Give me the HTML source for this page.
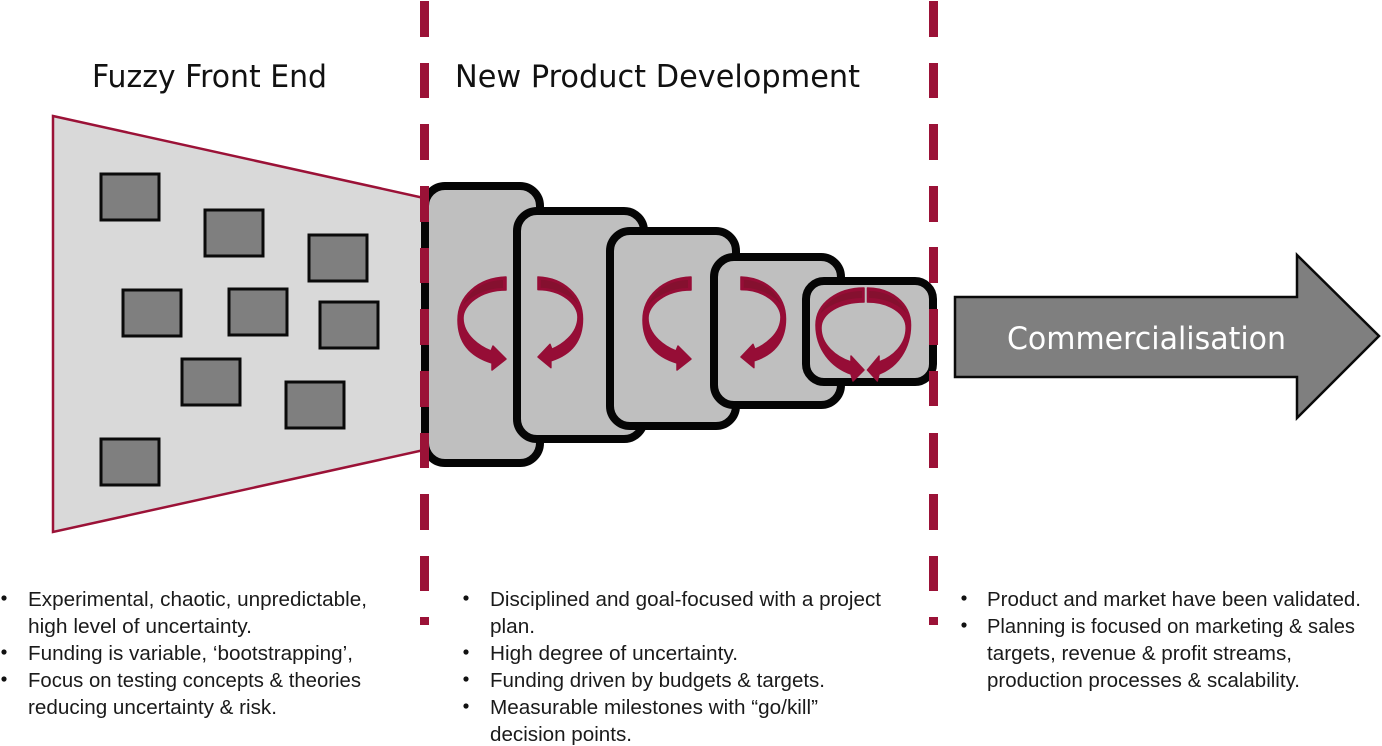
<!DOCTYPE html>
<html>
<head>
<meta charset="utf-8">
<style>
html,body{margin:0;padding:0;background:#fff;width:1382px;height:746px;overflow:hidden}
svg{display:block}
text{font-family:"Liberation Sans",sans-serif;fill:#1a1a1a}
.b{font-size:20px}
.t{font-family:"DejaVu Sans",sans-serif;font-size:31px;fill:#111}
</style>
</head>
<body>
<svg width="1382" height="746" viewBox="0 0 1382 746" xmlns="http://www.w3.org/2000/svg">
<defs>
<g id="arrow">
<path d="M506 277 C478 278 458 296 458 320 C458 344 472 357 492 363 L492 370 L506 359 L493 346 L491 351 C481 347 463 336 463 318 C463 305 480 290 506 290 Z" fill="#960d36" stroke="#960d36" stroke-width="1.5" stroke-linejoin="round"/>
<path d="M503 280 C488 280 470 288 463 305 C470 297 486 288 503 288 Z" fill="#85102f"/>
</g>
<g id="arrowS">
<path d="M864 288 C838 288 816 303 816 325 C816 349 831 367 851 374 L853 381 L864 370 L851 356 L851 362 C836 357 821 345 821 328 C821 313 840 302 864 302 Z" fill="#960d36" stroke="#960d36" stroke-width="1.5" stroke-linejoin="round"/>
<path d="M862 291 C845 291 827 298 820 314 C828 305 845 298 862 298 Z" fill="#85102f"/>
</g>
</defs>

<!-- funnel -->
<polygon points="53,116 424,198 424,450 53,532" fill="#d9d9d9" stroke="#9b1237" stroke-width="2.5"/>
<g fill="#7f7f7f" stroke="#0a0a0a" stroke-width="3">
<rect x="101" y="174" width="58" height="46"/>
<rect x="205" y="210" width="58" height="46"/>
<rect x="309" y="235" width="58" height="46"/>
<rect x="123" y="290" width="58" height="46"/>
<rect x="229" y="289" width="58" height="46"/>
<rect x="320" y="302" width="58" height="46"/>
<rect x="182" y="359" width="58" height="46"/>
<rect x="286" y="382" width="58" height="46"/>
<rect x="101" y="439" width="58" height="46"/>
</g>

<!-- stage boxes -->
<g fill="#bfbfbf" stroke="#050505" stroke-width="8">
<rect x="425" y="186" width="115" height="277" rx="20"/>
<rect x="517" y="211" width="127" height="228" rx="20"/>
<rect x="610" y="231" width="126" height="195" rx="20"/>
<rect x="714" y="257" width="127" height="148" rx="20"/>
<rect x="806" y="281" width="127" height="101" rx="18"/>
</g>

<!-- dashed lines -->
<g fill="#9b1237">
<rect x="420" y="1" width="9" height="36"/>
<rect x="420" y="63" width="9" height="35"/>
<rect x="420" y="124" width="9" height="36"/>
<rect x="420" y="186" width="9" height="36"/>
<rect x="420" y="248" width="9" height="35"/>
<rect x="420" y="309" width="9" height="36"/>
<rect x="420" y="371" width="9" height="36"/>
<rect x="420" y="433" width="9" height="35"/>
<rect x="420" y="494" width="9" height="36"/>
<rect x="420" y="556" width="9" height="35"/>
<rect x="420" y="617" width="9" height="8"/>
<rect x="929" y="1" width="9" height="36"/>
<rect x="929" y="63" width="9" height="35"/>
<rect x="929" y="124" width="9" height="36"/>
<rect x="929" y="186" width="9" height="36"/>
<rect x="929" y="247" width="9" height="36"/>
<rect x="929" y="309" width="9" height="36"/>
<rect x="929" y="371" width="9" height="35"/>
<rect x="929" y="433" width="9" height="35"/>
<rect x="929" y="494" width="9" height="36"/>
<rect x="929" y="556" width="9" height="35"/>
<rect x="929" y="617" width="9" height="8"/>
</g>

<!-- rotation arrows -->
<use href="#arrow"/>
<use href="#arrow" transform="matrix(-0.93 0 0 0.976 1008.5 6.6)"/>
<use href="#arrow" transform="translate(185 0)"/>
<use href="#arrow" transform="matrix(-0.93 0 0 0.976 1211.5 6.6)"/>
<use href="#arrowS"/>
<use href="#arrowS" transform="matrix(-0.9 0 0 1 1645 0)"/>

<!-- commercialisation arrow -->
<polygon points="955,297 1297,297 1297,255 1379,336 1297,418 1297,377 955,377" fill="#7f7f7f" stroke="#0a0a0a" stroke-width="2.5"/>
<text x="1007" y="349" class="t" style="fill:#fff" textLength="279" lengthAdjust="spacingAndGlyphs">Commercialisation</text>

<!-- headings -->
<text x="92" y="87" class="t" textLength="235" lengthAdjust="spacingAndGlyphs">Fuzzy Front End</text>
<text x="455" y="87" class="t" textLength="405" lengthAdjust="spacingAndGlyphs">New Product Development</text>

<!-- bullets -->
<g fill="#111">
<circle cx="4" cy="598" r="2.6"/><circle cx="4" cy="652" r="2.6"/><circle cx="4" cy="679" r="2.6"/>
<circle cx="466" cy="598" r="2.6"/><circle cx="466" cy="652" r="2.6"/><circle cx="466" cy="679" r="2.6"/><circle cx="466" cy="706" r="2.6"/>
<circle cx="964" cy="598" r="2.6"/><circle cx="964" cy="625" r="2.6"/>
</g>

<!-- left list -->
<text class="b" x="28" y="606" textLength="339" lengthAdjust="spacingAndGlyphs">Experimental, chaotic, unpredictable,</text>
<text class="b" x="28" y="633" textLength="224" lengthAdjust="spacingAndGlyphs">high level of uncertainty.</text>
<text class="b" x="28" y="660" textLength="325" lengthAdjust="spacingAndGlyphs">Funding is variable, ‘bootstrapping’,</text>
<text class="b" x="28" y="687" textLength="333" lengthAdjust="spacingAndGlyphs">Focus on testing concepts &amp; theories</text>
<text class="b" x="28" y="714" textLength="249" lengthAdjust="spacingAndGlyphs">reducing uncertainty &amp; risk.</text>

<!-- middle list -->
<text class="b" x="490" y="606" textLength="391" lengthAdjust="spacingAndGlyphs">Disciplined and goal-focused with a project</text>
<text class="b" x="490" y="633" textLength="45" lengthAdjust="spacingAndGlyphs">plan.</text>
<text class="b" x="490" y="660" textLength="248" lengthAdjust="spacingAndGlyphs">High degree of uncertainty.</text>
<text class="b" x="490" y="687" textLength="335" lengthAdjust="spacingAndGlyphs">Funding driven by budgets &amp; targets.</text>
<text class="b" x="490" y="714" textLength="328" lengthAdjust="spacingAndGlyphs">Measurable milestones with “go/kill”</text>
<text class="b" x="490" y="741" textLength="142" lengthAdjust="spacingAndGlyphs">decision points.</text>

<!-- right list -->
<text class="b" x="987" y="606" textLength="374" lengthAdjust="spacingAndGlyphs">Product and market have been validated.</text>
<text class="b" x="987" y="633" textLength="368" lengthAdjust="spacingAndGlyphs">Planning is focused on marketing &amp; sales</text>
<text class="b" x="987" y="660" textLength="305" lengthAdjust="spacingAndGlyphs">targets, revenue &amp; profit streams,</text>
<text class="b" x="987" y="687" textLength="313" lengthAdjust="spacingAndGlyphs">production processes &amp; scalability.</text>
</svg>
</body>
</html>
